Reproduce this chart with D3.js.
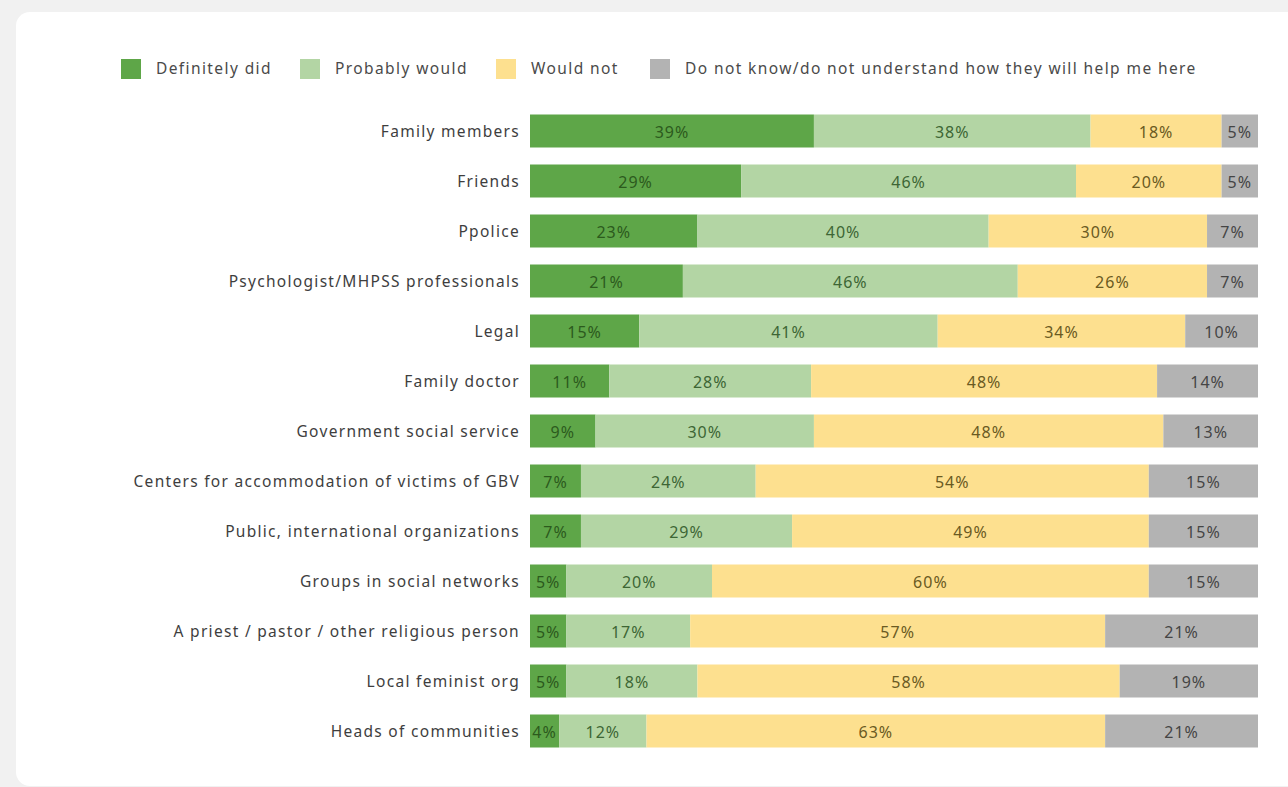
<!DOCTYPE html>
<html>
<head>
<meta charset="utf-8">
<script src="https://cdn.jsdelivr.net/npm/d3@7"></script>
<style>
  html, body { margin: 0; padding: 0; background: #f1f1f1; }
  svg { display: block; }
  text { font-family: "Noto Sans", "Open Sans", sans-serif; }
</style>
</head>
<body>
<svg id="chart" width="1288" height="787"></svg>
<script>
// Sources of help respondents would turn to (% of respondents)
const categories = [
  "Family members",
  "Friends",
  "Ppolice",
  "Psychologist/MHPSS professionals",
  "Legal",
  "Family doctor",
  "Government social service",
  "Centers for accommodation of victims of GBV",
  "Public, international organizations",
  "Groups in social networks",
  "A priest / pastor / other religious person",
  "Local feminist org",
  "Heads of communities"
];
const seriesNames = [
  "Definitely did",
  "Probably would",
  "Would not",
  "Do not know/do not understand how they will help me here"
];
const definitelyDid = [39, 29, 23, 21, 15, 11, 9, 7, 7, 5, 5, 5, 4];
const probablyWould = [38, 46, 40, 46, 41, 28, 30, 24, 29, 20, 17, 18, 12];
const wouldNot      = [18, 20, 30, 26, 34, 48, 48, 54, 49, 60, 57, 58, 63];
const doNotKnow     = [5, 5, 7, 7, 10, 14, 13, 15, 15, 15, 21, 19, 21];

const seriesValues = [definitelyDid, probablyWould, wouldNot, doNotKnow];
const fills = ["#5ea648", "#b3d5a4", "#fde08f", "#b3b3b3"];
const labelColors = ["#2c5a1d", "#3d6634", "#6a5a22", "#454545"];

const FONT_SIZE = 15.5;
const SPACING = 1.3;

const svg = d3.select("#chart");

// white card
svg.append("rect")
  .attr("x", 16).attr("y", 12)
  .attr("width", 1300).attr("height", 774)
  .attr("rx", 14).attr("fill", "#ffffff");

const x = d3.scaleLinear().domain([0, 100]).range([530, 1258]);
const y = d3.scaleBand().domain(categories).range([106, 756]).paddingInner(0.34).paddingOuter(0.17);

// each row is stacked as a share of its own total so the bar fills 100%
const rows = categories.map((c, i) => {
  const vals = seriesValues.map(s => s[i]);
  const total = d3.sum(vals);
  let acc = 0;
  return vals.map((v, k) => {
    const start = acc;
    acc += v * 100 / total;
    return { cat: c, k, value: v, x0: start, x1: acc };
  });
});

const g = svg.append("g");
rows.forEach(segs => {
  const row = g.append("g");
  row.selectAll("rect").data(segs).join("rect")
    .attr("x", d => x(d.x0))
    .attr("y", d => y(d.cat))
    .attr("width", d => x(d.x1) - x(d.x0))
    .attr("height", y.bandwidth())
    .attr("fill", d => fills[d.k]);
  row.selectAll("text").data(segs).join("text")
    .attr("x", d => (x(d.x0) + x(d.x1)) / 2)
    .attr("y", d => y(d.cat) + y.bandwidth() / 2 + 1)
    .attr("dy", "0.35em")
    .attr("text-anchor", "middle")
    .attr("font-size", 16)
    .attr("letter-spacing", 1)
    .attr("fill", d => labelColors[d.k])
    .text(d => d.value + "%");
});

// category axis
const yAxis = d3.axisLeft(y).tickSize(0).tickPadding(10);
const ay = svg.append("g").attr("transform", `translate(${x(0)},1)`).call(yAxis);
ay.select(".domain").remove();
ay.selectAll("text")
  .attr("font-size", FONT_SIZE)
  .attr("letter-spacing", SPACING)
  .attr("fill", "#3e3e3e")
  .style("font-family", "\"Noto Sans\", sans-serif");

// legend
const legendX = [121, 300, 496, 650];
const legend = svg.append("g");
seriesNames.forEach((name, k) => {
  legend.append("rect")
    .attr("x", legendX[k]).attr("y", 59)
    .attr("width", 20).attr("height", 20)
    .attr("fill", fills[k]);
  legend.append("text")
    .attr("x", legendX[k] + 35).attr("y", 69)
    .attr("dy", "0.35em")
    .attr("font-size", FONT_SIZE)
    .attr("letter-spacing", SPACING + 0.1)
    .attr("fill", "#4a4a4a")
    .text(name);
});
</script>
</body>
</html>
